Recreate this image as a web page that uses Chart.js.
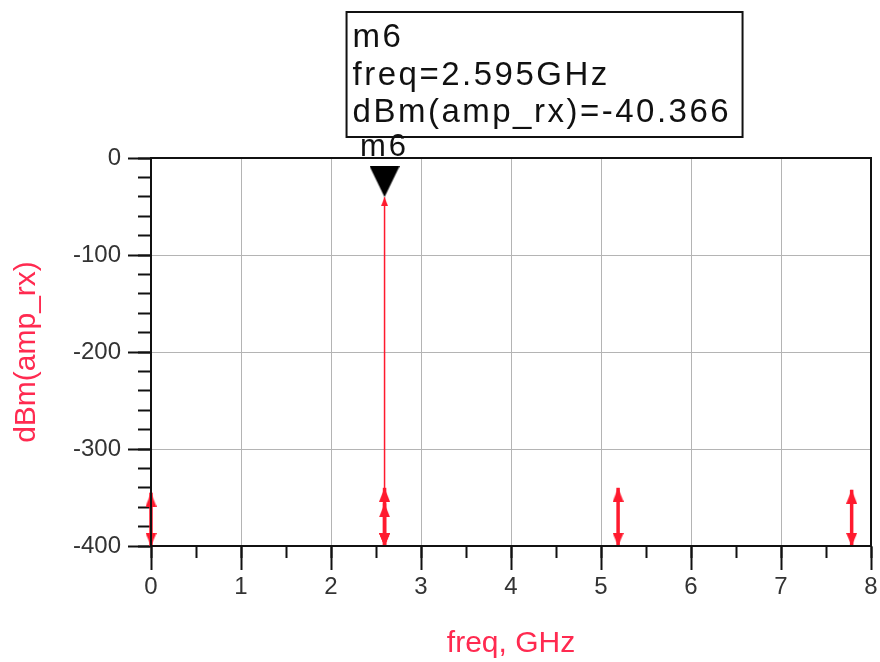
<!DOCTYPE html>
<html>
<head>
<meta charset="utf-8">
<script src="https://cdn.jsdelivr.net/npm/chart.js@4/dist/chart.umd.min.js"></script>
<style>
  html, body { margin: 0; padding: 0; background: #fff; }
</style>
</head>
<body>
<canvas id="spectrum" width="880" height="662"></canvas>
<script>
// spectrum of amp_rx (dBm vs GHz)
const xTicks = [0, 1, 2, 3, 4, 5, 6, 7, 8];
const yTicks = [-400, -300, -200, -100, 0];
const floorLevel = -400;

// small spurs / harmonics, drawn as arrows
const toneFreqs = [0, 2.595, 2.595, 5.19, 7.785];
const toneLevels = [-345, -340, -356, -340, -342];

// carrier
const carrierFreq = 2.595;
const carrierLevel = -40.366;
const markerName = 'm6';

const RED = '#ff1a2e';
const FONT = '"Liberation Sans", Arial, sans-serif';

// arrow heads with the tip at the centre of the canvas
function makeArrow(w, h, up, color) {
  const c = document.createElement('canvas');
  c.width = w; c.height = h * 2;
  const g = c.getContext('2d');
  g.fillStyle = color;
  g.beginPath();
  if (up) {
    g.moveTo(w / 2, h); g.lineTo(0, h * 2); g.lineTo(w, h * 2);
  } else {
    g.moveTo(w / 2, h); g.lineTo(0, 0); g.lineTo(w, 0);
  }
  g.closePath();
  g.fill();
  return c;
}

const arrowUp = makeArrow(11, 14, true, RED);
const arrowDown = makeArrow(11, 13, false, RED);
const smallUp = makeArrow(7, 9, true, RED);
const markerTri = makeArrow(30, 31, false, '#000');

const datasets = toneFreqs.map((f, i) => ({
  type: 'line',
  data: [{ x: f, y: floorLevel }, { x: f, y: toneLevels[i] }],
  borderColor: RED,
  borderWidth: 3.5,
  pointStyle: [arrowDown, arrowUp],
  pointRadius: 6,
  clip: false,
}));

datasets.push({
  type: 'line',
  data: [{ x: carrierFreq, y: floorLevel }, { x: carrierFreq, y: carrierLevel }],
  borderColor: RED,
  borderWidth: 1.5,
  pointStyle: [arrowDown, smallUp],
  pointRadius: 6,
  clip: false,
});

datasets.push({
  type: 'scatter',
  data: [{ x: carrierFreq, y: carrierLevel }],
  pointStyle: markerTri,
  pointRadius: 15,
  clip: false,
});

const noPad = (s) => { s.paddingLeft = 0; s.paddingRight = 0; s.paddingTop = 0; s.paddingBottom = 0; };

const markerBox = {
  id: 'markerBox',
  afterDatasetsDraw(chart) {
    const { ctx, chartArea, scales } = chart;
    const mx = scales.x.getPixelForValue(carrierFreq);
    const my = scales.y.getPixelForValue(carrierLevel);
    ctx.save();
    ctx.strokeStyle = '#111';
    ctx.lineWidth = 2;
    ctx.strokeRect(chartArea.left, chartArea.top, chartArea.right - chartArea.left, chartArea.bottom - chartArea.top);

    ctx.fillStyle = '#111';
    ctx.letterSpacing = '3px';
    ctx.font = '31px ' + FONT;
    ctx.textAlign = 'center';
    ctx.textBaseline = 'alphabetic';
    ctx.fillText(markerName, mx, my - 41);

    const left = mx - 38;
    const top = chartArea.top - 146;
    ctx.lineWidth = 2;
    ctx.strokeRect(left, top, 396, 125);
    ctx.textAlign = 'left';
    ctx.letterSpacing = '2.5px';
    ctx.font = '33px ' + FONT;
    ctx.fillText(markerName, left + 6, top + 35);
    ctx.fillText('freq=' + carrierFreq + 'GHz', left + 6, top + 73);
    ctx.fillText('dBm(amp_rx)=' + carrierLevel.toFixed(3), left + 6, top + 110);
    ctx.restore();
  }
};

new Chart(document.getElementById('spectrum'), {
  data: { datasets },
  plugins: [markerBox],
  options: {
    responsive: false,
    animation: false,
    events: [],
    layout: { autoPadding: false, padding: { top: 158, right: 9, left: 0, bottom: 0 } },
    plugins: { legend: { display: false }, tooltip: { enabled: false } },
    scales: {
      x: {
        type: 'linear',
        position: 'bottom',
        weight: 1,
        min: 0,
        max: 8,
        afterBuildTicks: (s) => { s.ticks = xTicks.map(v => ({ value: v })); },
        afterFit: (s) => { s.height = 116; noPad(s); },
        ticks: { color: '#333', padding: 3, font: { family: FONT, size: 24 } },
        grid: { color: '#b4b4b4', lineWidth: 1, tickLength: 24, tickColor: '#111', tickWidth: 2 },
        border: { color: '#111', width: 2 },
        title: { display: true, text: 'freq, GHz', color: '#ff2a50', padding: { top: 1, bottom: 0 }, font: { family: FONT, size: 30 } },
      },
      xMinor: {
        type: 'linear',
        position: 'bottom',
        weight: 0,
        min: 0,
        max: 8,
        ticks: { display: false, stepSize: 0.5 },
        afterFit: (s) => { s.height = 0; noPad(s); },
        grid: { drawOnChartArea: false, tickLength: 12, tickColor: '#111', tickWidth: 2 },
        border: { display: false },
      },
      y: {
        type: 'linear',
        position: 'left',
        weight: 1,
        min: -400,
        max: 0,
        afterBuildTicks: (s) => { s.ticks = yTicks.map(v => ({ value: v })); },
        afterFit: (s) => { s.width = 151; noPad(s); },
        ticks: { color: '#333', padding: 7, font: { family: FONT, size: 24 } },
        grid: { color: '#b4b4b4', lineWidth: 1, tickLength: 23, tickColor: '#111', tickWidth: 2 },
        border: { color: '#111', width: 2 },
        title: { display: true, text: 'dBm(amp_rx)', color: '#ff2a50', padding: { top: 9, bottom: 0 }, font: { family: FONT, size: 30 } },
      },
      yMinor: {
        type: 'linear',
        position: 'left',
        weight: 0,
        min: -400,
        max: 0,
        ticks: { display: false, stepSize: 20 },
        afterFit: (s) => { s.width = 0; noPad(s); },
        grid: { drawOnChartArea: false, tickLength: 13, tickColor: '#111', tickWidth: 2 },
        border: { display: false },
      },
    },
  },
});
</script>
</body>
</html>
